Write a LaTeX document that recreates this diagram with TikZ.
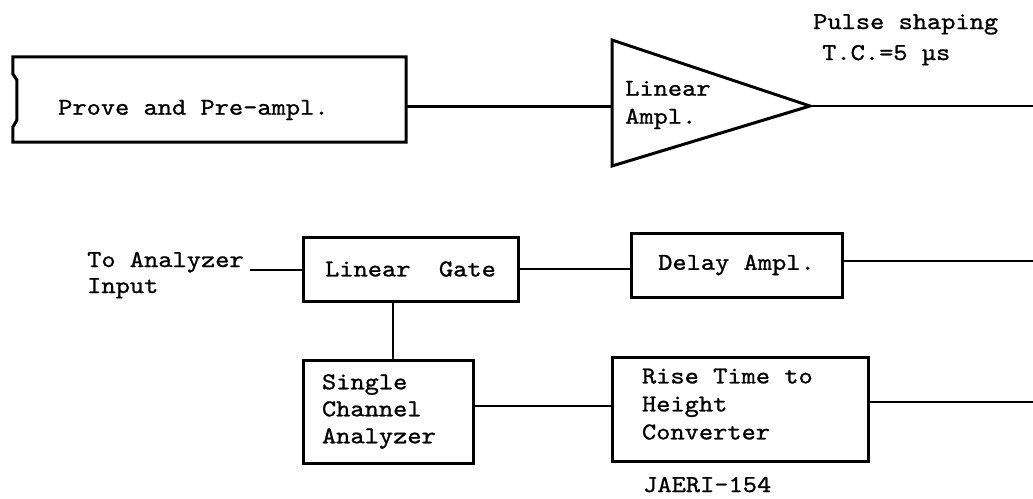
\documentclass[tikz,border=0pt]{standalone}
\usepackage{fontspec}
\setmainfont{lmmono10-regular.otf}[FakeStretch=1.12,FakeBold=1]
\begin{document}
\begin{tikzpicture}[x=1pt,y=-1pt,
  every node/.style={font=\fontsize{24.2}{27}\selectfont, inner sep=0pt},
  box/.style={draw, line width=3pt, line join=miter},
  wire/.style={line width=2.2pt}]
\useasboundingbox (0,0) rectangle (1033,498);

% --- top row ---
\node[minimum width=393pt, minimum height=85pt] (prove) at (209.5,99.5) {};
\draw[box] (prove.north east) -- (prove.north west)
  -- ([yshift=-17pt]prove.north west)
  -- ([xshift=4pt,yshift=-23pt]prove.north west)
  -- ([xshift=4pt,yshift=22pt]prove.south west)
  -- ([yshift=15pt]prove.south west)
  -- (prove.south west) -- (prove.south east) -- cycle;
\node[anchor=west] (provetext) at (58,110) {Prove and Pre-ampl.};

\coordinate (t1) at (612,40);
\coordinate (t2) at (612,166);
\coordinate (tip) at (810,106);
\draw[box] (t1) -- (tip) -- (t2) -- cycle;
\node[anchor=west, align=flush left, font=\fontsize{24.2}{28}\selectfont] (amp) at (625,105) {Linear\\Ampl.};

\coordinate (proveout) at (406,106.5);
\draw[wire] (proveout) -- (proveout -| t1);
\coordinate (out1) at (1033,106);
\draw[wire] (tip) -- (out1);

\node[anchor=base west] (ps) at (813,29) {Pulse shaping};
\node[anchor=base west] (tc) at (822,60) {T.C.=5 µs};

% --- lower rows ---
\node[box, minimum width=215pt, minimum height=64pt] (gate) at (410.5,269) {Linear\ \ Gate};
\node[box, minimum width=211pt, minimum height=64pt] (delay) at (736.5,265) {Delay Ampl.};
\node[box, minimum width=170pt, minimum height=103pt, text width=132pt, align=flush left,
      inner xsep=19pt] (sca) at (388,411.5) {Single\\Channel\\Analyzer};
\node[box, minimum width=256pt, minimum height=104pt, text width=196pt, align=flush left,
      inner xsep=30pt, font=\fontsize{24.2}{28}\selectfont] (rthc) at (740,409)
      {Rise Time to\\Height\\Converter\rule[-10pt]{0pt}{10pt}};

\node[anchor=base west] (toan) at (87,267) {To Analyzer};
\node[anchor=base west] (inp) at (87,293) {Input};
\coordinate (inend) at (250,270);
\draw[wire] (inend) -- (inend -| gate.west);

\draw[wire] (gate.east) -- (gate.east -| delay.west);
\coordinate (out2) at (1033,261);
\draw[wire] (delay.east |- out2) -- (out2);

\coordinate (v) at (393,0);
\draw[wire] (v |- gate.south) -- (v |- sca.north);

\coordinate (r4) at (0,406);
\draw[wire] (sca.east |- r4) -- (rthc.west |- r4);
\coordinate (out3) at (1033,402);
\draw[wire] (rthc.east |- out3) -- (out3);

\node[anchor=base west] (jaeri) at (643,492) {JAERI-154};
\end{tikzpicture}
\end{document}
